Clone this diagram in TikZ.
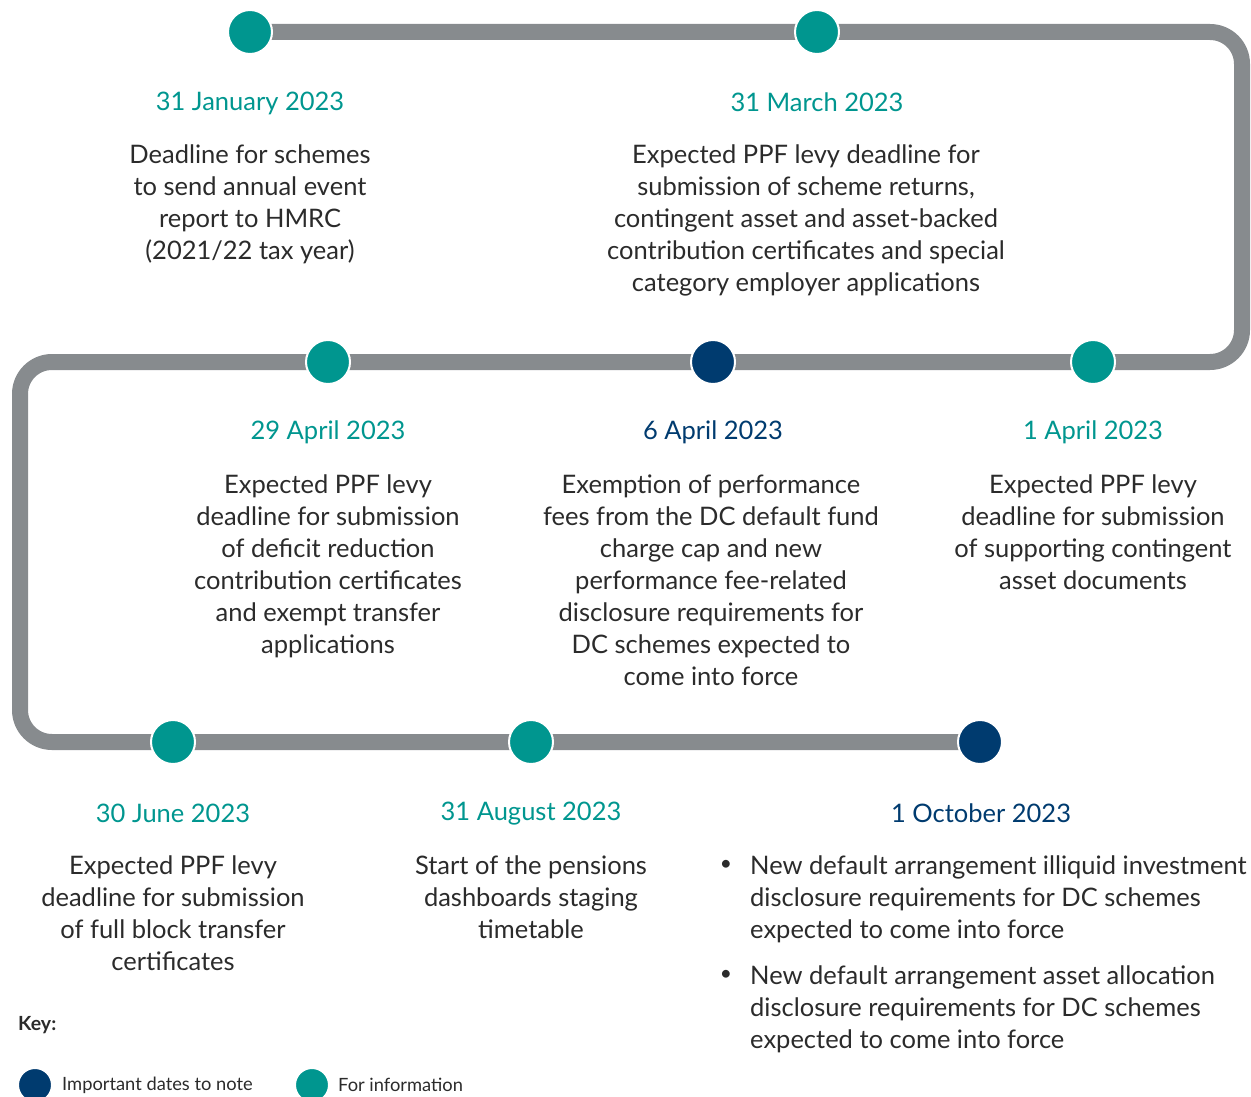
\documentclass[tikz,border=0pt]{standalone}
\usepackage{fontspec}
\setmainfont{Lato}
\usetikzlibrary{positioning}
\definecolor{infoteal}{HTML}{00968F}
\definecolor{keynavy}{HTML}{003B6F}
\definecolor{trackgray}{HTML}{878B8E}
\definecolor{bodytext}{HTML}{2B2B2B}

\begin{document}
\begin{tikzpicture}[x=1pt,y=-1pt]
		\tikzstyle{track} = [draw=trackgray, line width=16, rounded corners=32]
		\tikzstyle{info} = [shape=circle, minimum size=44, inner sep=0, fill=infoteal, draw=white, line width=2]
		\tikzstyle{important} = [info, fill=keynavy]
		\tikzstyle{date} = [font=\fontsize{25.5}{30}\selectfont, text=infoteal]
		\tikzstyle{datenavy} = [date, text=keynavy]
		\tikzstyle{desc} = [font=\fontsize{25.5}{32}\selectfont, text=bodytext, align=center, anchor=north, inner sep=0]
		\tikzstyle{keytext} = [font=\fontsize{18.3}{22}\selectfont, text=bodytext, anchor=west, inner sep=0]
		\useasboundingbox (0,0) rectangle (1251,1097);
		% track
		\coordinate (p1) at (250,32);
		\coordinate (k1) at (1242,32);
		\coordinate (k2) at (1242,362);
		\coordinate (k3) at (20,362);
		\coordinate (k4) at (20,742);
		\coordinate (p8) at (980,742);
		\draw [track] (p1) -- (k1) -- (k2) -- (k3) -- (k4) -- (p8);
		% dates
		\node [info] (v1) at (p1) {};
		\node [info] (v2) at (817,32) {};
		\node [info] (v3) at (1093,362) {};
		\node [important] (v4) at (713,362) {};
		\node [info] (v5) at (328,362) {};
		\node [info] (v6) at (173,742) {};
		\node [info] (v7) at (531,742) {};
		\node [important] (v8) at (p8) {};
		\node [date] (d1) at (250,103) {31 January 2023};
		\node [date] (d2) at (817,102) {31 March 2023};
		\node [date] (d3) at (1093,432) {1 April 2023};
		\node [datenavy] (d4) at (713,432) {6 April 2023};
		\node [date] (d5) at (328,432) {29 April 2023};
		\node [date] (d6) at (173,813) {30 June 2023};
		\node [date] (d7) at (531,814) {31 August 2023};
		\node [datenavy] (d8) at (981,813) {1 October 2023};
		\node [desc] (t1) at (250,145) {Deadline for schemes\\to send annual event\\report to HMRC\\(2021/22 tax year)};
		\node [desc] (t2) at (806,145) {Expected PPF levy deadline for\\submission of scheme returns,\\contingent asset and asset-backed\\contribution certificates and special\\category employer applications};
		\node [desc] (t3) at (1093,475) {Expected PPF levy\\deadline for submission\\of supporting contingent\\asset documents};
		\node [desc] (t4) at (711,475) {Exemption of performance\\fees from the DC default fund\\charge cap and new\\performance fee-related\\disclosure requirements for\\DC schemes expected to\\come into force};
		\node [desc] (t5) at (328,475) {Expected PPF levy\\deadline for submission\\of deficit reduction\\contribution certificates\\and exempt transfer\\applications};
		\node [desc] (t6) at (173,856) {Expected PPF levy\\deadline for submission\\of full block transfer\\certificates};
		\node [desc] (t7) at (531,856) {Start of the pensions\\dashboards staging\\timetable};
		\node [desc, align=left, anchor=north west] (t8a) at (750,856) {New default arrangement illiquid investment\\disclosure requirements for DC schemes\\expected to come into force};
		\node [desc, align=left, anchor=north west] (t8b) at (750,966) {New default arrangement asset allocation\\disclosure requirements for DC schemes\\expected to come into force};
		\node [desc, anchor=north, font=\fontsize{21}{32}\selectfont] (b1) at (726,860) {•};
		\node [desc, anchor=north, font=\fontsize{21}{32}\selectfont] (b2) at (726,970) {•};
		% key
		\node [keytext, font=\fontsize{19.5}{22}\selectfont\bfseries] (key) at (18,1025) {Key:};
		\node [important, minimum size=34] (k_imp) at (35,1085) {};
		\node [keytext] (l_imp) at (62,1085) {Important dates to note};
		\node [info, minimum size=34] (k_info) at (312,1085) {};
		\node [keytext] (l_info) at (338,1085) {For information};
\end{tikzpicture}
\end{document}
